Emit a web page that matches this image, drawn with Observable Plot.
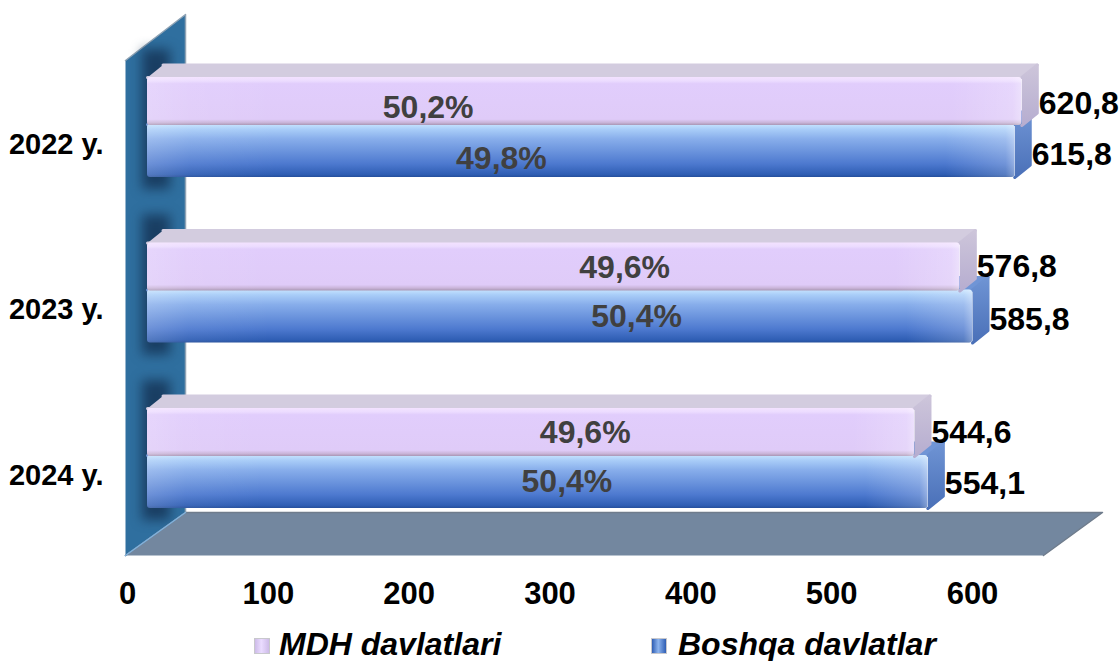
<!DOCTYPE html>
<html>
<head>
<meta charset="utf-8">
<script src="https://cdn.jsdelivr.net/npm/d3@7"></script>
<script src="https://cdn.jsdelivr.net/npm/@observablehq/plot@0.6"></script>
<style>
  html, body { margin: 0; padding: 0; background: #fff; overflow: hidden; }
  #chart svg { display: block; }
  #legend { position: relative; height: 41px; font: italic bold 32px "Liberation Sans", Arial, sans-serif; color: #000; }
  #legend span { position: absolute; white-space: nowrap; line-height: 41px; top: 4px; }
  #legend i { position: absolute; top: 18px; width: 16px; height: 16px; box-sizing: border-box; border: 1px solid #c8c8cc; }
</style>
</head>
<body>
<div id="chart"></div>
<div id="legend"></div>
<script>
const years = ["2022 y.", "2023 y.", "2024 y."];
const mdhValues = [620.8, 576.8, 544.6];
const otherValues = [615.8, 585.8, 554.1];
const mdhShares = ["50,2%", "49,6%", "49,6%"];
const otherShares = ["49,8%", "50,4%", "50,4%"];
const seriesNames = ["MDH davlatlari", "Boshqa davlatlar"];
const xTicks = [0, 100, 200, 300, 400, 500, 600];

// scale units per pixel, so the 3D depth below can be given through the scales
const ux = 600 / 845, uy = 2 / 331;
const base = 20 * ux, depthX = 15.5 * ux, depthY = 12.5 * uy;

// where the share labels sit along each bar (value units)
const mdhShareAt = [213.5, 353, 325];
const otherShareAt = [265.5, 361.5, 312];

const rows = years.map((year, i) => ({i, year}));
const series = [
  {key: "other", values: otherValues, shares: otherShares, at: otherShareAt, top: -3, bot: 50,
   front: "url(#gBlue)", topFill: "#7095d6", side: "url(#gBlueSide)", labelDy: [4, 3, 2], shareDy: [8, 0, 0]},
  {key: "mdh", values: mdhValues, shares: mdhShares, at: mdhShareAt, top: -50, bot: -2,
   front: "url(#gLilac)", topFill: "#d3ccdf", side: "url(#gLilacSide)", labelDy: [2, 0, 0], shareDy: [6, 1, 0]}
];

function facesFor(s) {
  const fronts = [], tops = [], sides = [], vals = [], shares = [];
  s.values.forEach((v, i) => {
    const t = i + s.top * uy, b = i + s.bot * uy, end = base + v;
    fronts.push({x1: base, x2: end, y1: t, y2: b});
    [[base, t], [end, t], [end + depthX, t - depthY], [base + depthX, t - depthY]]
      .forEach(([x, y]) => tops.push({id: i, x, y}));
    [[end, t], [end + depthX, t - depthY], [end + depthX, b - depthY], [end, b]]
      .forEach(([x, y]) => sides.push({id: i, x, y}));
    const mid = (t + b) / 2;
    vals.push({x: end, y: mid + s.labelDy[i] * uy, text: v.toFixed(1).replace(".", ",")});
    shares.push({x: s.at[i], y: mid + s.shareDy[i] * uy, text: s.shares[i]});
  });
  return {fronts, tops, sides, vals, shares};
}

const px = (x) => (x - 127) * ux, py = (y) => (y - 127) * uy;
const wall = [[125, 60], [185, 14], [185, 512], [125, 555]].map(([x, y]) => ({x: px(x), y: py(y)}));
const floor = [[125, 555], [185, 512], [1102, 512], [1043, 555]].map(([x, y]) => ({x: px(x), y: py(y)}));
const seam = [[125, 555], [185, 512]].map(([x, y]) => ({x: px(x), y: py(y)}));
const shadows = rows.map(({i}) => ({x1: px(142), x2: px(170), y1: i - 78 * uy, y2: i + 62 * uy}));

const barMarks = [];
const labelData = [];
for (const rowIndex of [0, 1, 2]) {
  for (const s of series) {
    const f = facesFor(s);
    const r = (a) => a.filter((d) => (d.id ?? a.indexOf(d)) === rowIndex);
    barMarks.push(
      Plot.line(r(f.tops), {x: "x", y: "y", fill: s.topFill, stroke: s.topFill, strokeWidth: 3, strokeLinejoin: "round"}),
      Plot.line(r(f.sides), {x: "x", y: "y", fill: s.side, stroke: s.side, strokeWidth: 3, strokeLinejoin: "round"}),
      Plot.rect(r(f.fronts), {x1: "x1", x2: "x2", y1: "y1", y2: "y2", fill: s.front, rx: 3}),
      Plot.rect(r(f.fronts), {x1: "x1", x2: "x2", y1: "y1", y2: "y2", fill: "url(#gEnds)", rx: 3})
    );
    labelData.push({vals: r(f.vals), shares: r(f.shares)});
  }
}

const textOpts = {fontFamily: "'Liberation Sans', Arial, sans-serif", fontWeight: "bold"};

const plot = Plot.plot({
  width: 1120,
  height: 620,
  marginLeft: 125,
  marginRight: 0,
  marginTop: 0,
  marginBottom: 50,
  style: {background: "transparent", fontFamily: "'Liberation Sans', Arial, sans-serif"},
  x: {domain: [0, 600], range: [127, 972], label: null},
  y: {domain: [0, 2], range: [127, 458], label: null, axis: null},
  marks: [
    Plot.line(wall, {x: "x", y: "y", fill: "#2f6f9f", stroke: "#8fa3b5", strokeWidth: 1.5}),
    Plot.rect(shadows, {x1: "x1", x2: "x2", y1: "y1", y2: "y2", fill: "#0f2a48", fillOpacity: 0.7, imageFilter: "blur(6px)"}),
    Plot.line(floor, {x: "x", y: "y", fill: "#73879f", stroke: "#6f7c8c", strokeWidth: 1.5}),
    Plot.line(seam, {x: "x", y: "y", stroke: "#7fb2de", strokeWidth: 1.5}),
    ...barMarks,
    ...labelData.flatMap(({vals, shares}) => [
      Plot.text(shares, {x: "x", y: "y", text: "text", fill: "#404040", fontSize: 32, ...textOpts}),
      Plot.text(vals, {x: "x", y: "y", text: "text", fill: "#000", fontSize: 32, textAnchor: "start", dx: 17, ...textOpts})
    ]),
    Plot.axisX({ticks: xTicks, tickFormat: (d) => `${d}`, anchor: "bottom", tickSize: 0, tickPadding: 11, fontSize: 31, fill: "#000", label: null, ...textOpts}),
    Plot.text(rows, {x: px(103), y: "i", text: "year", textAnchor: "end", dy: 17, fontSize: 29, fill: "#000", ...textOpts})
  ]
});

plot.insertAdjacentHTML("afterbegin", `
<defs>
  <linearGradient id="gLilac" x1="0" y1="0" x2="0" y2="1">
    <stop offset="0" stop-color="#f3e2ff"/><stop offset=".08" stop-color="#ecdcff"/>
    <stop offset=".14" stop-color="#e1cdfc"/><stop offset=".88" stop-color="#dfcbf8"/>
    <stop offset=".95" stop-color="#c9b4d8"/><stop offset="1" stop-color="#a996b4"/>
  </linearGradient>
  <linearGradient id="gBlue" x1="0" y1="0" x2="0" y2="1">
    <stop offset="0" stop-color="#c7e4ff"/><stop offset=".1" stop-color="#a9cdf8"/>
    <stop offset=".28" stop-color="#88aeeb"/><stop offset=".75" stop-color="#4d79cf"/>
    <stop offset=".95" stop-color="#2f5eb4"/><stop offset="1" stop-color="#254f9c"/>
  </linearGradient>
  <linearGradient id="gLilacSide" x1="0" y1="0" x2="0" y2="1">
    <stop offset="0" stop-color="#cdc5da"/><stop offset="1" stop-color="#b6add0"/>
  </linearGradient>
  <linearGradient id="gBlueSide" x1="0" y1="0" x2="0" y2="1">
    <stop offset="0" stop-color="#6f94d4"/><stop offset="1" stop-color="#4a70b8"/>
  </linearGradient>
  <linearGradient id="gEnds" x1="0" y1="0" x2="1" y2="0">
    <stop offset="0" stop-color="#fff" stop-opacity=".18"/><stop offset=".05" stop-color="#fff" stop-opacity=".06"/>
    <stop offset=".15" stop-color="#fff" stop-opacity="0"/><stop offset=".92" stop-color="#fff" stop-opacity="0"/>
    <stop offset=".99" stop-color="#fff" stop-opacity=".2"/><stop offset="1" stop-color="#fff" stop-opacity=".4"/>
  </linearGradient>
</defs>`);
document.getElementById("chart").append(plot);

const swatches = ["linear-gradient(90deg,#cdbbe8,#eadcff 45%,#cdbbe8)", "linear-gradient(90deg,#2f5eb4,#8db4ee 45%,#2f5eb4)"];
const legendLeft = [[254, 279], [651, 678]];
document.getElementById("legend").innerHTML = seriesNames.map((name, i) =>
  `<i style="left:${legendLeft[i][0]}px;background:${swatches[i]}"></i><span style="left:${legendLeft[i][1]}px">${name}</span>`
).join("");
</script>
</body>
</html>
